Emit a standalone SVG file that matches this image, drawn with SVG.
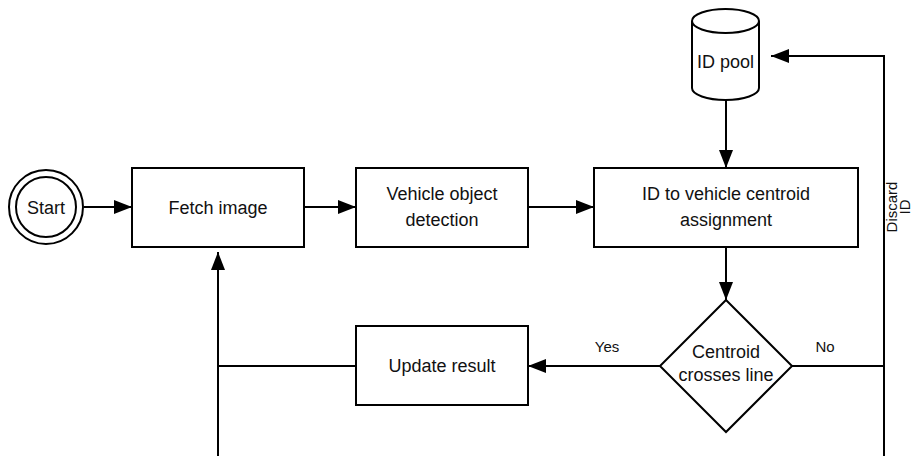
<svg xmlns="http://www.w3.org/2000/svg" width="914" height="456" viewBox="0 0 914 456">
<style>
.s{fill:#fff;stroke:#000;stroke-width:2}
.t{font-family:"Liberation Sans",Arial,sans-serif;font-size:18px;fill:#111;text-anchor:middle}
.l{font-family:"Liberation Sans",Arial,sans-serif;font-size:15px;fill:#111;text-anchor:middle}
.c{fill:none;stroke:#000;stroke-width:2}
</style>
<defs>
<marker id="a" markerUnits="userSpaceOnUse" markerWidth="18" markerHeight="14" refX="18" refY="7" orient="auto">
<path d="M0,0 L18,7 L0,14 Z" fill="#000"/>
</marker>
</defs>
<rect width="914" height="456" fill="#fff"/>
<g id="connectors">
<path class="c" d="M84,207 H132" marker-end="url(#a)"/>
<path class="c" d="M304,207 H356" marker-end="url(#a)"/>
<path class="c" d="M528,207 H594" marker-end="url(#a)"/>
<path class="c" d="M726,100 V168" marker-end="url(#a)"/>
<path class="c" d="M726,247 V300" marker-end="url(#a)"/>
<path class="c" d="M660,366 H528" marker-end="url(#a)"/>
<path class="c" d="M356,366 H218"/>
<path class="c" d="M218,456 V252" marker-end="url(#a)"/>
<path class="c" d="M792,366 H884"/>
<path class="c" d="M884,456 V56 H771" marker-end="url(#a)"/>
<text class="l" x="607" y="352">Yes</text>
<text class="l" x="825" y="352">No</text>
<g transform="translate(0,207) rotate(-90)">
<text class="l" x="0" y="897">Discard</text>
<text class="l" x="0" y="910">ID</text>
</g>
</g>
<g id="start">
<circle class="s" cx="46" cy="207" r="37"/>
<circle class="s" cx="46" cy="207" r="30"/>
<text class="t" x="46" y="213.5">Start</text>
</g>
<g id="fetch">
<rect class="s" x="132" y="168" width="172" height="79"/>
<text class="t" x="218" y="213.5">Fetch image</text>
</g>
<g id="detect">
<rect class="s" x="356" y="168" width="172" height="79"/>
<text class="t" x="442" y="199.5">Vehicle object</text>
<text class="t" x="442" y="226">detection</text>
</g>
<g id="assign">
<rect class="s" x="594" y="168" width="264" height="79"/>
<text class="t" x="726" y="199.5">ID to vehicle centroid</text>
<text class="t" x="726" y="226">assignment</text>
</g>
<g id="pool">
<path class="s" d="M692,21 A33.5,12 0 0 1 759,21 V88 A33.5,12 0 0 1 692,88 Z"/>
<path class="c" d="M692,21 A33.5,12 0 0 0 759,21"/>
<text class="t" x="725.5" y="68">ID pool</text>
</g>
<g id="decision">
<path class="s" d="M726,300 L792,366 L726,432 L660,366 Z"/>
<text class="t" x="726" y="357.5">Centroid</text>
<text class="t" x="726" y="380.5">crosses line</text>
</g>
<g id="update">
<rect class="s" x="356" y="326" width="172" height="79"/>
<text class="t" x="442" y="372">Update result</text>
</g>
</svg>
